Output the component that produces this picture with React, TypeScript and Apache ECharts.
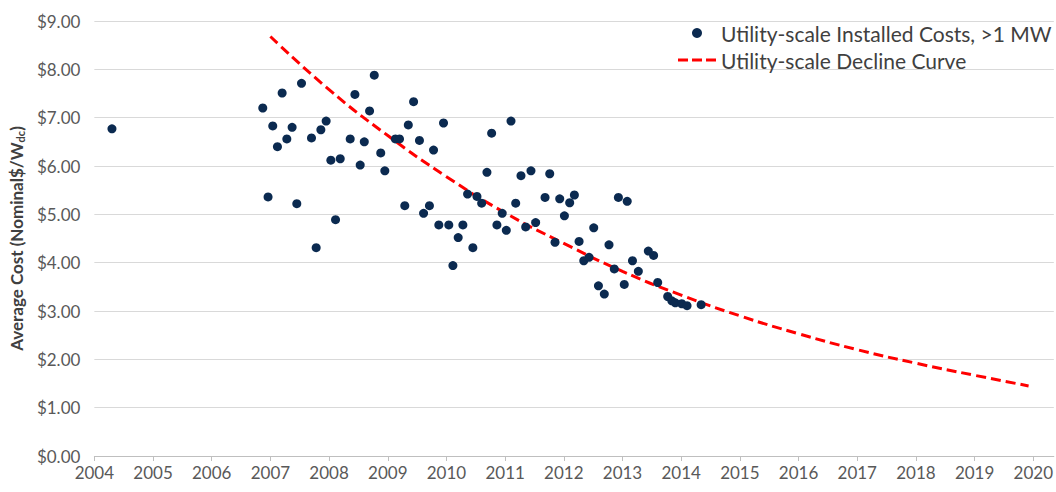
import React, { useEffect, useRef } from "react";
import * as echarts from "echarts";

const xTickYears = [2004, 2005, 2006, 2007, 2008, 2009, 2010, 2011, 2012, 2013, 2014, 2015, 2016, 2017, 2018, 2019, 2020];
const yTicks = [0, 1, 2, 3, 4, 5, 6, 7, 8, 9];

const installedName = "Utility-scale Installed Costs, >1 MW";
const declineName = "Utility-scale Decline Curve";

// [year, $/Wdc]
const installedCosts: [number, number][] = [
  [2004.3, 6.77],
  [2006.87, 7.2], [2006.96, 5.36], [2007.04, 6.83], [2007.12, 6.4], [2007.2, 7.51],
  [2007.28, 6.56], [2007.37, 6.8], [2007.45, 5.22], [2007.53, 7.71], [2007.7, 6.58],
  [2007.78, 4.31], [2007.86, 6.75], [2007.95, 6.93], [2008.03, 6.12], [2008.11, 4.89],
  [2008.19, 6.15], [2008.36, 6.56], [2008.44, 7.48], [2008.53, 6.02], [2008.6, 6.5],
  [2008.69, 7.14], [2008.77, 7.88], [2008.88, 6.27], [2008.95, 5.9],
  [2009.13, 6.56], [2009.2, 6.56], [2009.29, 5.18], [2009.35, 6.85], [2009.44, 7.33],
  [2009.54, 6.53], [2009.61, 5.02], [2009.71, 5.18], [2009.78, 6.33], [2009.87, 4.78],
  [2009.95, 6.89], [2010.04, 4.78], [2010.11, 3.94], [2010.2, 4.52], [2010.28, 4.78],
  [2010.36, 5.42], [2010.45, 4.31], [2010.52, 5.37], [2010.6, 5.23], [2010.69, 5.87],
  [2010.77, 6.68], [2010.86, 4.78], [2010.95, 5.02], [2011.02, 4.67], [2011.1, 6.93],
  [2011.18, 5.23], [2011.27, 5.8], [2011.35, 4.74], [2011.44, 5.9], [2011.52, 4.83],
  [2011.68, 5.35], [2011.76, 5.84], [2011.85, 4.42], [2011.93, 5.32], [2012.01, 4.97],
  [2012.1, 5.24], [2012.18, 5.4], [2012.26, 4.44], [2012.34, 4.04], [2012.43, 4.11],
  [2012.51, 4.72], [2012.59, 3.52], [2012.69, 3.35], [2012.77, 4.37], [2012.86, 3.87],
  [2012.93, 5.35], [2013.03, 3.55], [2013.08, 5.27], [2013.17, 4.04], [2013.27, 3.82],
  [2013.44, 4.24], [2013.53, 4.15], [2013.6, 3.59], [2013.77, 3.3], [2013.84, 3.21],
  [2013.9, 3.17], [2014.01, 3.15], [2014.1, 3.11], [2014.34, 3.13],
];

const curveYears = [2007, 2008, 2009, 2010, 2011, 2012, 2013, 2014, 2015, 2016, 2017, 2018, 2019, 2019.92];
const curveCosts = [8.68, 7.58, 6.63, 5.78, 5.03, 4.4, 3.82, 3.33, 2.9, 2.53, 2.2, 1.92, 1.67, 1.45];

const FONT = "Lato, 'Open Sans', sans-serif";

export default function App() {
  const ref = useRef<HTMLDivElement>(null);
  useEffect(() => {
    if (!ref.current) return;
    const chart = echarts.init(ref.current, undefined, { renderer: "svg" });
    chart.setOption({
      animation: false,
      backgroundColor: "#ffffff",
      textStyle: { fontFamily: FONT },
      grid: { left: 94, right: 2, top: 21, bottom: 36, containLabel: false },
      legend: {
        orient: "vertical",
        left: 673,
        top: 17,
        itemWidth: 38,
        itemHeight: 10,
        itemGap: 5,
        symbolKeepAspect: true,
        textStyle: { fontFamily: FONT, fontSize: 21, color: "#404040", lineHeight: 22 },
        data: [
          { name: installedName, icon: "circle" },
          { name: declineName, icon: "path://M0,0h10v3h-10z M14,0h10v3h-10z M28,0h10v3h-10z" },
        ],
      },
      xAxis: {
        type: "value",
        min: 2004,
        max: 2020.35,
        interval: 1,
        splitLine: { show: false },
        axisLine: { show: true, lineStyle: { color: "#bfbfbf", width: 1 } },
        axisTick: { show: true, length: 5, lineStyle: { color: "#bfbfbf" }, customValues: xTickYears },
        axisLabel: {
          customValues: xTickYears,
          color: "#595959",
          fontSize: 17,
          fontFamily: FONT,
          margin: 8,
          formatter: (v: number) => String(Math.round(v)),
        },
      },
      yAxis: {
        type: "value",
        min: 0,
        max: 9,
        interval: 1,
        axisLine: { show: false },
        axisTick: { show: false },
        splitLine: { lineStyle: { color: "#d9d9d9", width: 1 } },
        axisLabel: {
          customValues: yTicks,
          color: "#595959",
          fontSize: 17,
          fontFamily: FONT,
          margin: 14,
          formatter: (v: number) => "$" + v.toFixed(2),
        },
        name: "Average Cost (Nominal$/W{sub|dc})",
        nameLocation: "middle",
        nameGap: 68,
        nameTextStyle: {
          fontFamily: FONT,
          fontSize: 17,
          fontWeight: "bold",
          color: "#404040",
          rich: {
            sub: { fontSize: 11, fontWeight: "bold", color: "#404040", fontFamily: FONT, verticalAlign: "bottom", padding: [8, 0, 0, 0] },
          },
        },
      },
      series: [
        {
          name: declineName,
          type: "line",
          data: curveYears.map((y, i) => [y, curveCosts[i]]),
          smooth: true,
          showSymbol: false,
          symbol: "none",
          z: 2,
          color: "#ff0000",
          lineStyle: { color: "#ff0000", width: 3, type: [10, 5], cap: "butt" },
        },
        {
          name: installedName,
          type: "scatter",
          data: installedCosts,
          symbol: "circle",
          symbolSize: 9,
          z: 3,
          itemStyle: { color: "#0b2a50", opacity: 1 },
        },
      ],
    });
    return () => chart.dispose();
  }, []);
  return <div ref={ref} style={{ position: "absolute", left: 0, top: 0, width: 1056, height: 492 }} />;
}
